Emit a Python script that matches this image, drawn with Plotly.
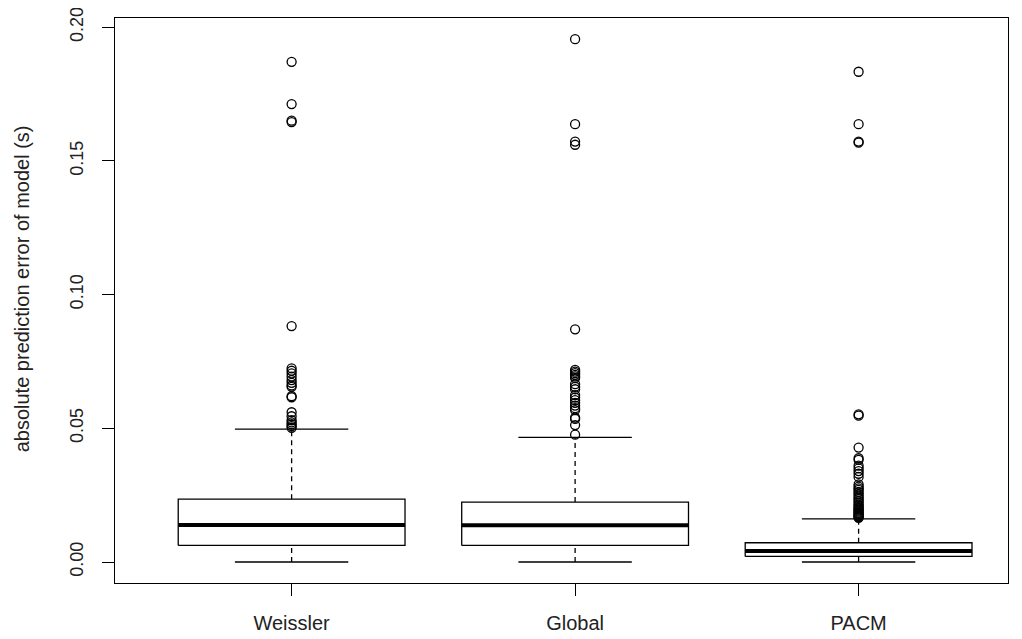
import plotly.graph_objects as go

categories = ["Weissler", "Global", "PACM"]
lower_whisker = [0.0, 0.0, 0.0]
q1 = [0.0062, 0.0062, 0.0021]
median = [0.0138, 0.0137, 0.0041]
q3 = [0.0235, 0.0224, 0.0072]
upper_whisker = [0.0497, 0.0466, 0.0161]

outliers_weissler = [0.1870, 0.1712, 0.1650, 0.1645, 0.0882, 0.0724, 0.0715, 0.0705,
                     0.0693, 0.0680, 0.0670, 0.0660, 0.0655, 0.0620, 0.0616, 0.0560,
                     0.0545, 0.0530, 0.0522, 0.0515, 0.0508, 0.0502]
outliers_global = [0.1955, 0.1637, 0.1572, 0.1560, 0.0870, 0.0718, 0.0712, 0.0706,
                   0.0700, 0.0694, 0.0688, 0.0665, 0.0655, 0.0646, 0.0624, 0.0615,
                   0.0605, 0.0595, 0.0585, 0.0575, 0.0568, 0.0540, 0.0535, 0.0512, 0.0476]
outliers_pacm = [0.1833, 0.1637, 0.1572, 0.1568, 0.0552, 0.0547, 0.0428, 0.0388,
                 0.0382, 0.0360, 0.0350, 0.0340, 0.0330, 0.0318, 0.0290, 0.0282,
                 0.0275, 0.0270, 0.0262, 0.0255, 0.0248, 0.0240, 0.0235, 0.0228,
                 0.0222, 0.0215, 0.0210, 0.0205, 0.0200, 0.0196, 0.0192, 0.0188,
                 0.0184, 0.0180, 0.0177, 0.0174, 0.0171, 0.0168, 0.0165]
outliers = [outliers_weissler, outliers_global, outliers_pacm]

y_ticks = [0.00, 0.05, 0.10, 0.15, 0.20]
y_tick_labels = ["0.00", "0.05", "0.10", "0.15", "0.20"]

positions = [1, 2, 3]
half_box = 0.4
half_cap = 0.2

fig = go.Figure()

box_x, box_y = [], []
med_x, med_y = [], []
wh_x, wh_y = [], []
cap_x, cap_y = [], []
for i, p in enumerate(positions):
    box_x += [p - half_box, p + half_box, p + half_box, p - half_box, p - half_box, None]
    box_y += [q1[i], q1[i], q3[i], q3[i], q1[i], None]
    med_x += [p - half_box, p + half_box, None]
    med_y += [median[i], median[i], None]
    wh_x += [p, p, None, p, p, None]
    wh_y += [q3[i], upper_whisker[i], None, lower_whisker[i], q1[i], None]
    cap_x += [p - half_cap, p + half_cap, None, p - half_cap, p + half_cap, None]
    cap_y += [upper_whisker[i], upper_whisker[i], None, lower_whisker[i], lower_whisker[i], None]

fig.add_trace(go.Scatter(x=wh_x, y=wh_y, mode="lines",
                         line=dict(color="black", width=1.3, dash="5px,4px"),
                         showlegend=False, hoverinfo="skip"))
fig.add_trace(go.Scatter(x=cap_x, y=cap_y, mode="lines",
                         line=dict(color="black", width=1.3),
                         showlegend=False, hoverinfo="skip"))
fig.add_trace(go.Scatter(x=box_x, y=box_y, mode="lines",
                         line=dict(color="black", width=1.3),
                         showlegend=False, hoverinfo="skip"))
fig.add_trace(go.Scatter(x=med_x, y=med_y, mode="lines",
                         line=dict(color="black", width=4),
                         showlegend=False, hoverinfo="skip"))
for i, p in enumerate(positions):
    fig.add_trace(go.Scatter(x=[p] * len(outliers[i]), y=outliers[i], mode="markers",
                             marker=dict(symbol="circle-open", size=9,
                                         color="black", line=dict(width=1.3)),
                             showlegend=False, name=categories[i]))

font = dict(family="Liberation Sans, Arial, sans-serif", size=20, color="#222")
yfont = dict(family="Liberation Sans, Arial, sans-serif", size=18, color="#222")

# page body adds an 8px offset, so the figure is sized 8px smaller on each axis
fig.update_layout(
    width=1014, height=631,
    margin=dict(l=107, r=14, t=10, b=56, autoexpand=False),
    plot_bgcolor="white", paper_bgcolor="white",
    font=font,
    xaxis=dict(range=[0.377, 3.527], tickmode="array", tickvals=positions,
               ticktext=categories, showgrid=False, zeroline=False,
               showline=True, mirror=True, linecolor="black", linewidth=1,
               ticks="outside", ticklen=12, tickcolor="black", tickwidth=1,
               ticklabelstandoff=10, tickfont=font, automargin=False,
               ticklabeloverflow="allow"),
    yaxis=dict(range=[-0.00785, 0.2034], tickmode="array", tickvals=y_ticks,
               ticktext=y_tick_labels, showgrid=False, zeroline=False,
               showline=True, mirror=True, linecolor="black", linewidth=1,
               ticks="outside", ticklen=12, tickcolor="black", tickwidth=1,
               tickangle=-90, ticklabelstandoff=12, tickfont=yfont, automargin=False,
               ticklabeloverflow="allow"),
    annotations=[dict(text="absolute prediction error of model (s)",
                      xref="paper", yref="paper", x=-0.104, y=0.52,
                      xanchor="center", yanchor="middle", textangle=-90,
                      showarrow=False, font=font)],
)

fig.write_html("out.html")
